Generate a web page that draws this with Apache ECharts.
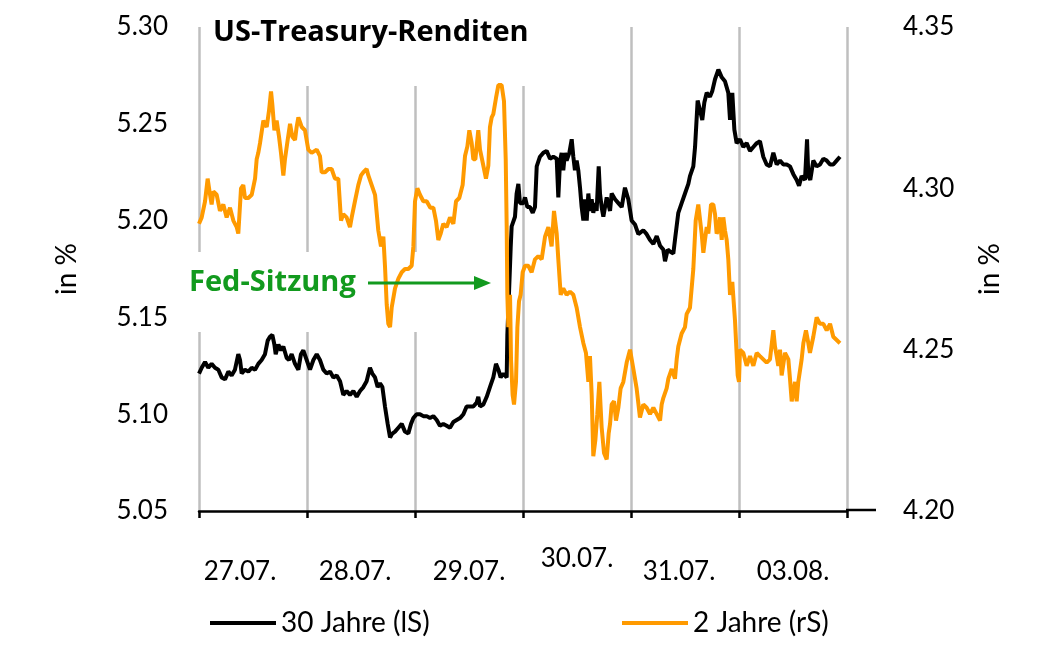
<!DOCTYPE html>
<html><head><meta charset="utf-8">
<script src="https://cdn.jsdelivr.net/npm/echarts@6/dist/echarts.min.js"></script>
<style>html,body{margin:0;padding:0;background:#fff}#c{width:1039px;height:648px}</style>
</head><body><div id="c"></div>
<script>
// Day categories (x-axis labels)
const dayLabels = ['27.07.', '28.07.', '29.07.', '30.07.', '31.07.', '03.08.'];
const seriesNames = ['30 Jahre (lS)', '2 Jahre (rS)'];

// 30-year yield (left axis): time in trading days since 27.07. open, value in %
const t30 = [0,0.025,0.056,0.086,0.117,0.148,0.179,0.210,0.241,0.272,0.302,0.333,0.364,0.380,0.395,0.426,0.457,0.488,0.519,0.549,0.580,0.611,0.636,0.657,0.679,0.698,0.710,0.735,0.759,0.781,0.812,0.833,0.858,0.889,0.920,0.944,0.966,0.997,
1.028,1.059,1.090,1.120,1.151,1.182,1.213,1.244,1.275,1.306,1.336,1.367,1.398,1.429,1.460,1.491,1.522,1.552,1.583,1.605,1.630,1.654,1.676,1.698,1.722,1.747,1.769,1.790,1.815,1.846,1.877,1.907,1.938,1.963,1.985,
2.015,2.046,2.077,2.108,2.139,2.170,2.201,2.231,2.262,2.293,2.324,2.355,2.386,2.417,2.448,2.478,2.509,2.540,2.571,2.586,2.602,2.633,2.664,2.694,2.725,2.750,2.772,2.793,2.818,2.849,2.855,2.870,2.886,2.895,2.910,2.926,2.941,2.957,2.972,2.988,
3.003,3.019,3.040,3.065,3.090,3.111,3.127,3.157,3.188,3.219,3.250,3.281,3.312,3.327,3.343,3.358,3.373,3.389,3.404,3.429,3.451,3.466,3.481,3.497,3.512,3.528,3.543,3.559,3.574,3.590,3.605,3.620,3.636,3.651,3.667,3.682,3.701,3.713,3.728,3.744,3.775,3.806,3.821,3.852,3.883,3.914,3.944,3.975,
4.006,4.037,4.068,4.083,4.114,4.145,4.176,4.207,4.238,4.269,4.299,4.315,4.340,4.361,4.392,4.407,4.438,4.469,4.500,4.531,4.546,4.577,4.593,4.617,4.639,4.660,4.679,4.701,4.731,4.753,4.778,4.809,4.840,4.870,4.901,4.917,4.938,4.957,4.978,
5.009,5.040,5.071,5.102,5.133,5.164,5.194,5.225,5.256,5.287,5.318,5.349,5.380,5.411,5.441,5.472,5.503,5.534,5.556,5.580,5.611,5.630,5.642,5.660,5.688,5.719,5.750,5.781,5.812,5.843,5.873,5.904,5.935];
const v30 = [5.121,5.124,5.127,5.124,5.126,5.124,5.123,5.119,5.118,5.122,5.120,5.123,5.131,5.128,5.121,5.123,5.122,5.124,5.123,5.126,5.128,5.131,5.138,5.140,5.141,5.136,5.131,5.136,5.133,5.135,5.129,5.128,5.131,5.126,5.123,5.131,5.133,5.128,
5.123,5.128,5.131,5.128,5.123,5.121,5.122,5.119,5.120,5.117,5.110,5.112,5.110,5.112,5.109,5.112,5.114,5.117,5.124,5.121,5.119,5.114,5.116,5.114,5.104,5.095,5.088,5.090,5.091,5.093,5.095,5.091,5.090,5.095,5.098,
5.100,5.100,5.099,5.099,5.098,5.099,5.097,5.094,5.095,5.094,5.093,5.096,5.097,5.098,5.100,5.104,5.104,5.104,5.106,5.109,5.104,5.105,5.109,5.114,5.119,5.126,5.123,5.119,5.121,5.119,5.141,5.162,5.186,5.197,5.198,5.202,5.214,5.219,5.209,5.210,
5.209,5.212,5.207,5.207,5.204,5.207,5.228,5.233,5.235,5.236,5.232,5.233,5.232,5.212,5.231,5.235,5.226,5.235,5.231,5.235,5.242,5.233,5.226,5.231,5.226,5.217,5.207,5.200,5.211,5.200,5.214,5.205,5.211,5.204,5.209,5.205,5.228,5.214,5.207,5.202,5.212,5.205,5.214,5.211,5.209,5.207,5.217,5.211,
5.200,5.198,5.193,5.192,5.195,5.193,5.190,5.188,5.192,5.187,5.185,5.179,5.185,5.184,5.183,5.190,5.204,5.209,5.214,5.219,5.223,5.228,5.238,5.262,5.257,5.252,5.261,5.266,5.264,5.267,5.273,5.278,5.274,5.272,5.266,5.252,5.266,5.247,5.240,
5.242,5.238,5.240,5.236,5.238,5.240,5.241,5.233,5.229,5.228,5.235,5.229,5.231,5.229,5.229,5.228,5.224,5.221,5.218,5.223,5.221,5.242,5.223,5.221,5.231,5.228,5.229,5.232,5.231,5.229,5.229,5.231,5.233];

// 2-year yield (right axis)
const t2 = [0,0.025,0.056,0.080,0.102,0.117,0.133,0.164,0.194,0.225,0.256,0.287,0.318,0.349,0.364,0.389,0.410,0.426,0.457,0.488,0.519,0.534,0.549,0.565,0.596,0.627,0.648,0.667,0.679,0.698,0.719,0.741,0.759,0.781,0.796,0.821,0.843,0.864,0.889,0.904,0.920,0.951,0.981,
1.012,1.043,1.090,1.120,1.136,1.167,1.198,1.228,1.259,1.290,1.315,1.336,1.367,1.398,1.414,1.444,1.475,1.500,1.522,1.552,1.568,1.599,1.630,1.660,1.685,1.707,1.722,1.738,1.753,1.769,1.784,1.815,1.846,1.877,1.907,1.938,1.969,1.985,
2.000,2.022,2.046,2.077,2.108,2.142,2.170,2.194,2.216,2.238,2.262,2.293,2.324,2.355,2.380,2.410,2.441,2.463,2.485,2.503,2.525,2.540,2.559,2.586,2.602,2.633,2.657,2.679,2.694,2.710,2.725,2.750,2.772,2.802,2.824,2.840,2.849,2.855,2.864,2.880,2.889,2.904,2.917,2.935,2.948,2.963,2.978,2.997,
3.019,3.049,3.080,3.111,3.142,3.173,3.204,3.235,3.265,3.287,3.312,3.327,3.349,3.373,3.404,3.435,3.466,3.497,3.528,3.559,3.583,3.605,3.620,3.636,3.651,3.670,3.688,3.707,3.728,3.750,3.775,3.793,3.806,3.821,3.843,3.861,3.883,3.904,3.929,3.960,3.991,
4.022,4.052,4.083,4.114,4.145,4.176,4.207,4.238,4.269,4.284,4.299,4.330,4.346,4.377,4.407,4.423,4.438,4.469,4.500,4.515,4.546,4.577,4.599,4.623,4.639,4.654,4.670,4.685,4.701,4.716,4.741,4.762,4.778,4.793,4.809,4.824,4.840,4.855,4.870,4.886,4.901,4.917,4.938,4.963,4.988,
5.000,5.009,5.040,5.071,5.102,5.133,5.164,5.194,5.225,5.256,5.287,5.318,5.333,5.349,5.364,5.380,5.395,5.426,5.457,5.472,5.488,5.519,5.534,5.549,5.580,5.596,5.620,5.642,5.657,5.688,5.719,5.750,5.781,5.812,5.843,5.873,5.904,5.935];
const v2 = [4.289,4.291,4.296,4.303,4.298,4.295,4.299,4.298,4.293,4.295,4.291,4.294,4.290,4.288,4.286,4.300,4.301,4.297,4.297,4.298,4.303,4.309,4.311,4.314,4.321,4.319,4.324,4.330,4.326,4.318,4.321,4.316,4.311,4.304,4.309,4.315,4.320,4.316,4.315,4.319,4.322,4.319,4.318,
4.312,4.311,4.312,4.310,4.305,4.305,4.306,4.306,4.303,4.303,4.290,4.292,4.291,4.288,4.291,4.296,4.301,4.304,4.305,4.306,4.304,4.301,4.298,4.287,4.282,4.285,4.276,4.264,4.258,4.257,4.263,4.269,4.272,4.274,4.275,4.275,4.276,4.282,
4.296,4.300,4.298,4.296,4.296,4.294,4.294,4.290,4.284,4.286,4.289,4.288,4.291,4.289,4.296,4.297,4.301,4.310,4.313,4.318,4.314,4.309,4.309,4.318,4.312,4.307,4.303,4.307,4.319,4.322,4.323,4.328,4.332,4.332,4.327,4.309,4.288,4.267,4.257,4.267,4.247,4.236,4.233,4.240,4.257,4.265,4.267,4.274,
4.276,4.276,4.274,4.278,4.279,4.278,4.285,4.288,4.282,4.293,4.286,4.278,4.267,4.269,4.267,4.268,4.267,4.263,4.257,4.252,4.249,4.240,4.248,4.236,4.217,4.222,4.230,4.240,4.226,4.218,4.216,4.224,4.227,4.233,4.234,4.228,4.232,4.238,4.240,4.246,4.250,
4.244,4.238,4.229,4.233,4.232,4.230,4.232,4.230,4.228,4.233,4.235,4.238,4.241,4.244,4.241,4.247,4.251,4.255,4.257,4.261,4.263,4.275,4.290,4.295,4.295,4.286,4.280,4.284,4.288,4.286,4.295,4.295,4.292,4.286,4.287,4.291,4.284,4.291,4.287,4.284,4.278,4.267,4.271,4.259,4.242,
4.240,4.250,4.249,4.245,4.248,4.245,4.249,4.248,4.247,4.246,4.247,4.256,4.251,4.248,4.245,4.250,4.242,4.249,4.247,4.241,4.234,4.240,4.234,4.240,4.247,4.252,4.256,4.252,4.249,4.254,4.260,4.258,4.258,4.256,4.258,4.254,4.253,4.252];

const F = 'Lato, "Open Sans", sans-serif';
const FB = '"Open Sans", Lato, sans-serif';
const GREEN = '#129a1e';
const ORANGE = '#ff9a00';
const labelShift = [26, 12, 0, 0, 12, 0];
const labelTop = [13, 13, 13, 0, 13, 13];

const rich = {};
dayLabels.forEach((d, i) => {
  rich['s' + i] = { fontFamily: F, fontSize: 26, color: '#000', padding: [labelTop[i], labelShift[i], 0, 0] };
});

const chart = echarts.init(document.getElementById('c'), null, { renderer: 'canvas' });
chart.setOption({
  animation: false,
  backgroundColor: '#fff',
  grid: { left: 199, right: 192, top: 27, bottom: 137, containLabel: false },
  title: {
    text: 'US-Treasury-Renditen', left: 208, top: 13,
    textStyle: { fontFamily: FB, fontWeight: 'bold', fontSize: 29, color: '#000' }
  },
  legend: [
    { data: [seriesNames[0]], left: 205, top: 604, icon: 'rect', itemWidth: 66, itemHeight: 4,
      textStyle: { fontFamily: F, fontSize: 28, color: '#000' } },
    { data: [seriesNames[1]], left: 617, top: 604, icon: 'rect', itemWidth: 66, itemHeight: 4,
      textStyle: { fontFamily: F, fontSize: 28, color: '#000' } }
  ],
  xAxis: [
    { type: 'value', min: 0, max: 6, interval: 1,
      axisLine: { show: true, lineStyle: { color: '#000', width: 2.5 } },
      axisTick: { show: true, length: 7, lineStyle: { color: '#000', width: 2.5 } },
      axisLabel: { show: false },
      splitLine: { show: true, lineStyle: { color: '#bfbfbf', width: 2.5 } } },
    { type: 'category', data: dayLabels, position: 'bottom', boundaryGap: true,
      axisLine: { show: false }, axisTick: { show: false }, splitLine: { show: false },
      axisLabel: { interval: 0, margin: 35, formatter: (v, i) => '{s' + i + '|' + v + '}', rich: rich } }
  ],
  yAxis: [
    { type: 'value', min: 5.05, max: 5.30, interval: 0.05, position: 'left',
      name: 'in %', nameLocation: 'middle', nameGap: 118, nameRotate: 90,
      nameTextStyle: { fontFamily: F, fontSize: 28, color: '#000' },
      axisLabel: { formatter: v => v.toFixed(2), margin: 31, fontFamily: F, fontSize: 26, color: '#000' },
      axisLine: { show: false }, axisTick: { show: false }, splitLine: { show: false } },
    { type: 'value', min: 4.20, max: 4.35, interval: 0.05, position: 'right',
      name: 'in %', nameLocation: 'middle', nameGap: 129, nameRotate: 90,
      nameTextStyle: { fontFamily: F, fontSize: 28, color: '#000' },
      axisLabel: { formatter: v => v.toFixed(2), margin: 56, fontFamily: F, fontSize: 26, color: '#000' },
      axisLine: { show: false }, axisTick: { show: false }, splitLine: { show: false } }
  ],
  series: [
    { name: seriesNames[0], type: 'line', xAxisIndex: 0, yAxisIndex: 0, showSymbol: false, symbol: 'none', z: 3,
      color: '#000', lineStyle: { color: '#000', width: 4 },
      data: t30.map((t, i) => [t, v30[i]]) },
    { name: seriesNames[1], type: 'line', xAxisIndex: 0, yAxisIndex: 1, showSymbol: false, symbol: 'none', z: 4,
      color: ORANGE, lineStyle: { color: ORANGE, width: 4 },
      data: t2.map((t, i) => [t, v2[i]]) }
  ],
  graphic: [
    { type: 'rect', z: 1, shape: { x: 205, y: 18, width: 326, height: 68 }, style: { fill: '#fff' } },
    { type: 'rect', z: 1, shape: { x: 183, y: 252, width: 328, height: 80 }, style: { fill: '#fff' } },
    { type: 'text', z: 5, x: 189, y: 283, style: { text: 'Fed-Sitzung', fill: GREEN, fontFamily: FB, fontWeight: 'bold', fontSize: 29, textVerticalAlign: 'middle', verticalAlign: 'middle' } },
    { type: 'line', z: 5, shape: { x1: 368, y1: 283, x2: 478, y2: 283 }, style: { stroke: GREEN, lineWidth: 3 } },
    { type: 'polygon', z: 5, shape: { points: [[474, 276], [491, 283], [474, 290]] }, style: { fill: GREEN } },
    { type: 'line', z: 5, shape: { x1: 846, y1: 510, x2: 876, y2: 510 }, style: { stroke: '#000', lineWidth: 2.5 } }
  ]
});
</script></body></html>
